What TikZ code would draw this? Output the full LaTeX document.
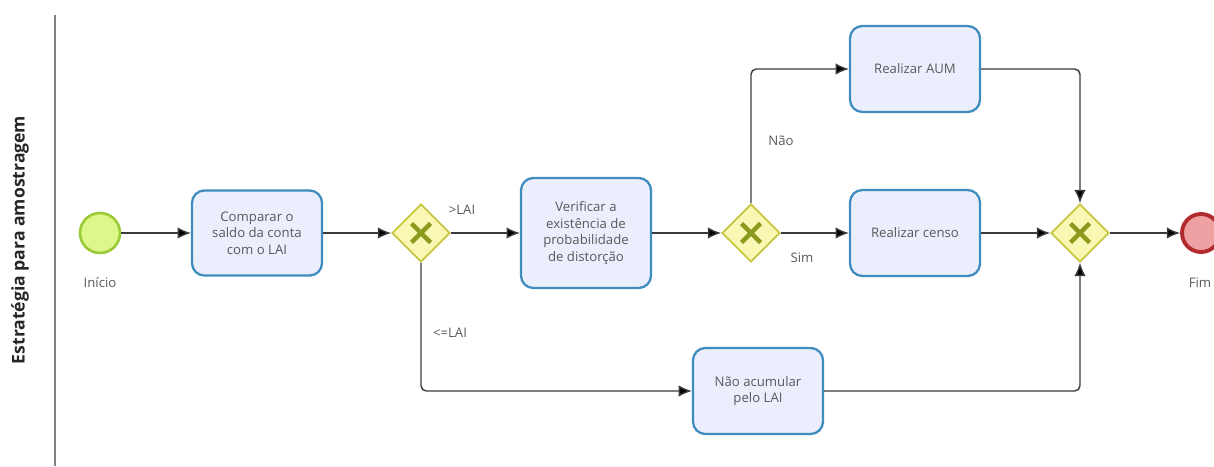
\documentclass[tikz,border=0pt]{standalone}
\usepackage{fontspec}
\setmainfont{Open Sans}
\usepackage{tikz}
\usetikzlibrary{calc,positioning,arrows.meta,shapes.geometric}
\definecolor{TaskFill}{HTML}{EBEEFD}
\definecolor{TaskLine}{HTML}{3F8DBE}
\definecolor{GateFill}{HTML}{F8F8B4}
\definecolor{GateLine}{HTML}{C6C640}
\definecolor{GateCross}{HTML}{8A9A1C}
\definecolor{StartFill}{HTML}{DDF78A}
\definecolor{StartLine}{HTML}{9CCB3A}
\definecolor{EndFill}{HTML}{EFA0A2}
\definecolor{EndLine}{HTML}{B02A2E}
\definecolor{LabelGray}{HTML}{5A5A5A}
\definecolor{FlowGray}{HTML}{3A3A3A}

\begin{document}
\begin{tikzpicture}[
    task/.style={draw=TaskLine,fill=TaskFill,line width=1.3pt,rounded corners=7pt,
      minimum width=2.6cm,minimum height=1.72cm,align=center,
      text=LabelGray,font=\fontsize{7.5}{9.5}\selectfont},
    gate/.style={diamond,draw=GateLine,fill=GateFill,line width=1pt,inner sep=0pt,
      minimum width=1.16cm,minimum height=1.16cm,
      path picture={\draw[GateCross,line width=2.6pt]
        ($(path picture bounding box.center)+(-.19,-.19)$) -- ($(path picture bounding box.center)+(.19,.19)$)
        ($(path picture bounding box.center)+(-.19,.19)$) -- ($(path picture bounding box.center)+(.19,-.19)$);}},
    flow/.style={draw=FlowGray,line width=0.8pt,rounded corners=3pt,-{Latex[length=7.5pt,width=6.5pt,fill=black]}},
    lbl/.style={text=LabelGray,font=\fontsize{7.5}{9}\selectfont}
  ]
  \useasboundingbox (0,0) rectangle (24.28,9.32);

  % lane
  \draw[gray,line width=0.9pt] (1.10,9.02) -- (1.10,0);
  \node[rotate=90,font=\bfseries\fontsize{10}{12}\selectfont,text=black!85] (lane) at (0.40,4.52) {Estratégia para amostragem};

  % events
  \node[circle,draw=StartLine,fill=StartFill,line width=1.5pt,minimum size=0.8cm,inner sep=0pt] (inicio) at (2.00,4.66) {};
  \node[lbl] (inicioLbl) at (2.00,3.66) {Início};
  \node[circle,draw=EndLine,fill=EndFill,line width=2.2pt,minimum size=0.76cm,inner sep=0pt] (fim) at (24.02,4.66) {};
  \node[lbl] (fimLbl) at (24.00,3.66) {Fim};

  % tasks
  \node[task,minimum height=1.7cm] (comparar) at (5.14,4.66) {Comparar o\\saldo da conta\\com o LAI};
  \node[task,minimum height=2.2cm] (verificar) at (11.72,4.66) {Verificar a\\existência de\\probabilidade\\de distorção};
  \node[task] (aum) at (18.30,7.94) {Realizar AUM};
  \node[task] (censo) at (18.30,4.66) {Realizar censo};
  \node[task] (naoacum) at (15.16,1.50) {Não acumular\\pelo LAI};

  % gateways
  \node[gate] (gwLai) at (8.42,4.66) {};
  \node[gate] (gwDist) at (15.02,4.66) {};
  \node[gate] (gwJoin) at (21.60,4.66) {};

  % flows
  \draw[flow] (inicio) -- (comparar);
  \draw[flow] (comparar) -- (gwLai);
  \draw[flow] (gwLai) -- (verificar);
  \draw[flow] (verificar) -- (gwDist);
  \draw[flow] (gwDist) -- (censo);
  \draw[flow] (gwDist.north) |- (aum.west);
  \draw[flow] (gwLai.south) |- (naoacum.west);
  \draw[flow] (aum.east) -| (gwJoin.north);
  \draw[flow] (censo) -- (gwJoin);
  \draw[flow] (naoacum.east) -| (gwJoin.south);
  \draw[flow] (gwJoin) -- (fim);

  % flow labels
  \node[lbl] (maiorLai) at (9.24,5.12) {>LAI};
  \node[lbl] (menorLai) at (9.00,2.66) {<=LAI};
  \node[lbl] (nao) at (15.62,6.50) {Não};
  \node[lbl] (sim) at (16.04,4.16) {Sim};
\end{tikzpicture}
\end{document}
